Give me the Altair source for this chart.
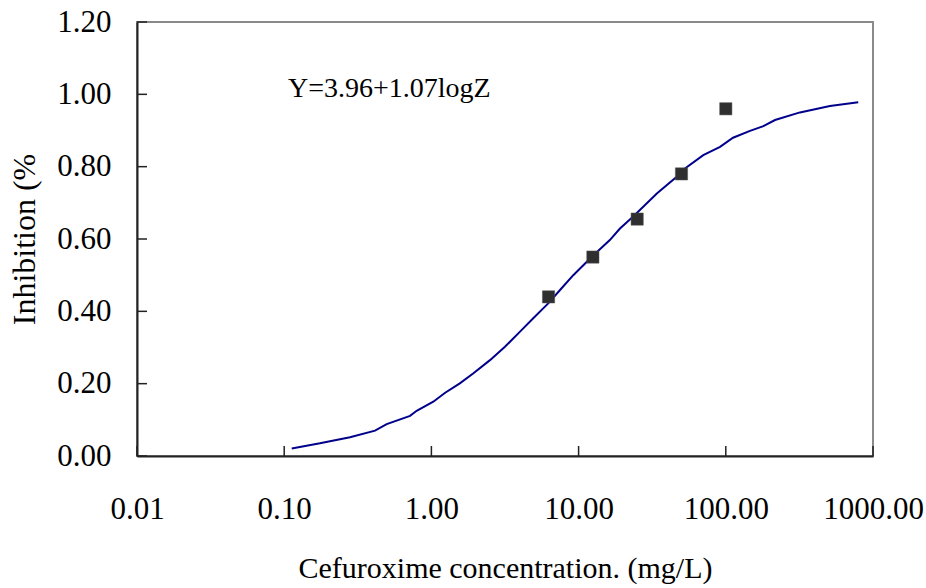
import altair as alt
import pandas as pd

# fitted curve
curve_x = [0.1125, 0.175, 0.28, 0.414, 0.497, 0.716, 0.794, 1.03, 1.24, 1.56,
           1.93, 2.50, 3.16, 4.0, 4.92, 6.22, 7.48, 9.2, 12.3, 16.3, 19.1, 23.5,
           34.0, 46.4, 52.8, 70.3, 91.4, 112, 146, 180, 216, 319, 510, 794]
curve_y = [0.021, 0.035, 0.052, 0.070, 0.088, 0.111, 0.125, 0.150, 0.175, 0.201,
           0.229, 0.265, 0.302, 0.344, 0.381, 0.422, 0.459, 0.500, 0.551, 0.597,
           0.629, 0.662, 0.726, 0.772, 0.795, 0.832, 0.855, 0.880, 0.899, 0.912,
           0.929, 0.950, 0.968, 0.978]

# observed points
obs_x = [6.25, 12.5, 25, 50, 100]
obs_y = [0.44, 0.55, 0.655, 0.78, 0.96]

x_ticks = [0.01, 0.1, 1, 10, 100, 1000]
y_ticks = [0.0, 0.2, 0.4, 0.6, 0.8, 1.0, 1.2]

note_text = ["Y=3.96+1.07logZ"]
note_x = [0.106]
note_y = [0.993]

FONT = "Liberation Serif"
W, H = 736, 434

x_scale = alt.Scale(type="log", domain=[0.01, 1000], nice=False)
y_scale = alt.Scale(domain=[0, 1.2], nice=False, zero=False)

x_axis = alt.Axis(values=x_ticks, format=".2f", ticks=False, grid=False,
                  domainColor="#222", domainWidth=2, labelFont=FONT,
                  labelFontSize=31, labelColor="black", labelPadding=38,
                  labelFlush=False, labelOverlap=False,
                  title="Cefuroxime concentration. (mg/L)", titleFont=FONT,
                  titleFontSize=30, titleFontWeight="normal", titleColor="black",
                  titleY=121, titleBaseline="alphabetic")
y_axis = alt.Axis(values=y_ticks, format=".2f", ticks=False, grid=False,
                  domainColor="#222", domainWidth=2, labelFont=FONT,
                  labelFontSize=31, labelColor="black", labelPadding=26,
                  labelFlush=False, labelOverlap=False,
                  title="Inhibition (%", titleFont=FONT, titleFontSize=32,
                  titleFontWeight="normal", titleColor="black",
                  titleAngle=270, titleX=-103, titleY=217,
                  titleBaseline="alphabetic", titleAlign="center")

X = alt.X("x:Q", scale=x_scale, axis=x_axis)
Y = alt.Y("y:Q", scale=y_scale, axis=y_axis)

curve_df = pd.DataFrame({"x": curve_x, "y": curve_y})
obs_df = pd.DataFrame({"x": obs_x, "y": obs_y})
note_df = pd.DataFrame({"x": note_x, "y": note_y, "t": note_text})
xt_df = pd.DataFrame({"x": x_ticks})
yt_df = pd.DataFrame({"y": y_ticks})

line = alt.Chart(curve_df).mark_line(color="#00008B", strokeWidth=2).encode(x=X, y=Y)
pts = alt.Chart(obs_df).mark_square(size=150, color="#2f2f2f", opacity=1,
                                    stroke="#555", strokeWidth=0.5).encode(x=X, y=Y)
note = alt.Chart(note_df).mark_text(font=FONT, fontSize=28, align="left",
                                    baseline="alphabetic", color="black").encode(
    x=X, y=Y, text="t:N")
xticks = alt.Chart(xt_df).mark_rule(color="#222", strokeWidth=1.5).encode(
    x=X, y=alt.value(H), y2=alt.value(H - 10))
yticks = alt.Chart(yt_df).mark_rule(color="#222", strokeWidth=1.5).encode(
    y=Y, x=alt.value(0), x2=alt.value(10))

chart = alt.layer(line, xticks, yticks, pts, note).properties(
    width=W, height=H,
    autosize=alt.AutoSizeParams(type="none"),
    padding={"left": 137, "top": 22, "right": 53, "bottom": 132},
    background="white",
).configure_view(stroke="#8a8a8a", strokeWidth=2)

chart.save("out.html", embed_options={"renderer": "svg", "actions": False})
